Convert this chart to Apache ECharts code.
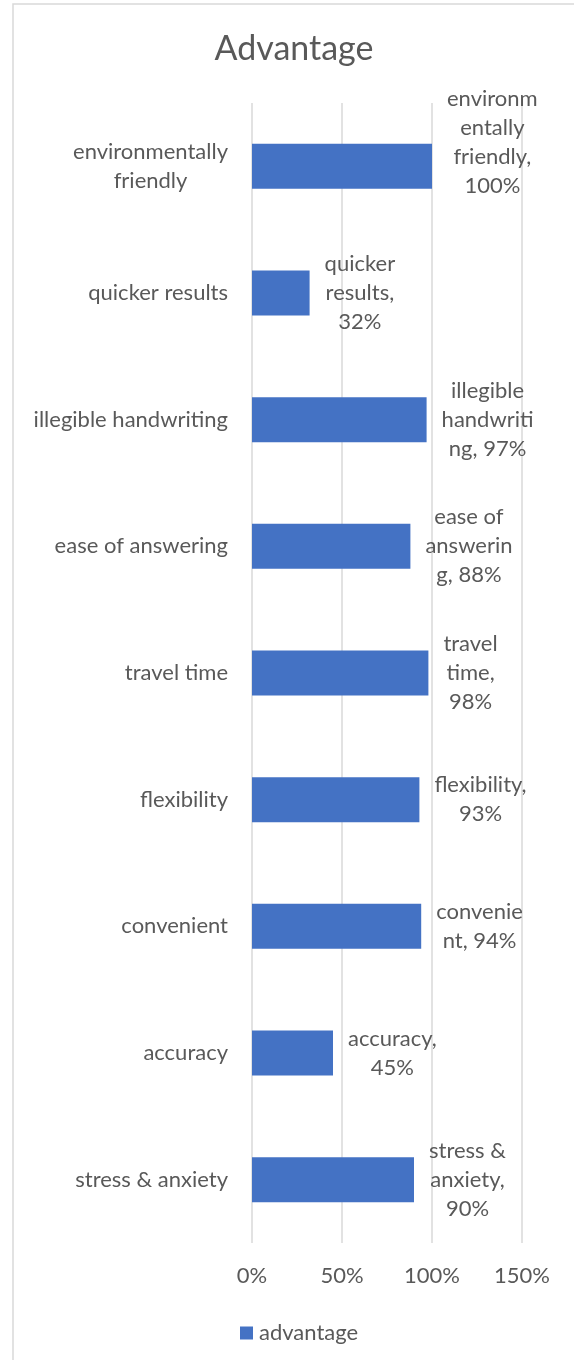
<!DOCTYPE html>
<html>
<head>
<meta charset="utf-8">
<script src="https://cdn.jsdelivr.net/npm/echarts@6/dist/echarts.min.js"></script>
<style>
html,body{margin:0;padding:0;background:#fff;}
#chart{width:574px;height:1360px;}
</style>
</head>
<body>
<div id="chart"></div>
<script>
const titleText = 'Advantage';
const seriesName = 'advantage';
const categories = ['environmentally friendly', 'quicker results', 'illegible handwriting', 'ease of answering', 'travel time', 'flexibility', 'convenient', 'accuracy', 'stress & anxiety'];
const values = [100, 32, 97, 88, 98, 93, 94, 45, 90];
// data label text as wrapped in the reference; {v} is replaced by the value
const labelWrapped = ['environm\nentally\nfriendly,\n{v}', 'quicker\nresults,\n{v}', 'illegible\nhandwriti\nng, {v}', 'ease of\nanswerin\ng, {v}', 'travel\ntime,\n{v}', 'flexibility,\n{v}', 'convenie\nnt, {v}', 'accuracy,\n{v}', 'stress &\nanxiety,\n{v}'];
const xMin = 0, xMax = 150, xInterval = 50;

const FONT = 'Lato, "Open Sans", sans-serif';
const TXT = '#595959';
const FS = 22;

const ctx = document.createElement('canvas').getContext('2d');
ctx.font = FS + 'px Lato';
function wrapWords(text, maxW) {
  const words = text.split(' ');
  const lines = [];
  let cur = '';
  words.forEach(w => {
    const t = cur ? cur + ' ' + w : w;
    if (cur && ctx.measureText(t).width > maxW) { lines.push(cur); cur = w; }
    else cur = t;
  });
  if (cur) lines.push(cur);
  return lines;
}

const chart = echarts.init(document.getElementById('chart'), null, {renderer: 'canvas'});
const option = {
  animation: false,
  backgroundColor: '#ffffff',
  textStyle: {fontFamily: FONT},
  graphic: [{
    type: 'rect', z: -10, silent: true,
    shape: {x: 13, y: 4, width: 700, height: 1500},
    style: {fill: 'none', stroke: '#d9d9d9', lineWidth: 1.5}
  }],
  title: {
    text: titleText, left: 289, top: 27, textAlign: 'center',
    textStyle: {fontFamily: FONT, fontSize: 34, fontWeight: 'normal', color: TXT}
  },
  legend: {
    data: [seriesName], left: 235, top: 1317, icon: 'rect', itemWidth: 13, itemHeight: 13, itemGap: 10,
    textStyle: {fontFamily: FONT, fontSize: FS, color: TXT, padding: [0, 0, 0, 1]}
  },
  grid: {left: 252, right: 52, top: 103, bottom: 117, containLabel: false},
  xAxis: {
    type: 'value', min: xMin, max: xMax, interval: xInterval,
    axisLine: {show: false}, axisTick: {show: false},
    splitLine: {show: true, lineStyle: {color: '#d9d9d9', width: 1.5}},
    axisLabel: {formatter: v => v + '%', color: TXT, fontFamily: FONT, fontSize: FS, margin: 22}
  },
  yAxis: {
    type: 'category', data: categories, inverse: true,
    axisLine: {show: false}, axisTick: {show: false},
    axisLabel: {
      margin: 24, color: TXT, fontFamily: FONT, fontSize: FS,
      formatter: name => wrapWords(name, 205).map(l => '{c|' + l + '}').join('\n'),
      rich: {c: {align: 'center', fontFamily: FONT, fontSize: FS, color: TXT, lineHeight: 29}}
    }
  },
  series: [{
    name: seriesName, type: 'bar', barCategoryGap: '64.5%',
    itemStyle: {color: '#4472c4'},
    data: values.map((v, i) => {
      const d = {value: v};
      if (i === 0) d.label = {offset: [0, -24]};
      return d;
    }),
    label: {
      show: true, position: 'right', distance: 15, color: TXT, fontFamily: FONT, fontSize: FS,
      formatter: p => labelWrapped[p.dataIndex].replace('{v}', p.value + '%').split('\n').map(l => '{c|' + l + '}').join('\n'),
      rich: {c: {align: 'center', fontFamily: FONT, fontSize: FS, color: TXT, lineHeight: 29}}
    }
  }]
};
chart.setOption(option);
</script>
</body>
</html>
